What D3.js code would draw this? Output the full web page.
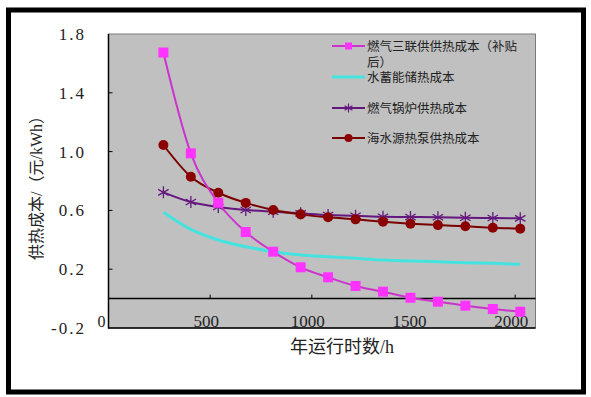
<!DOCTYPE html>
<html>
<head>
<meta charset="utf-8">
<script src="https://cdn.jsdelivr.net/npm/d3@7"></script>
<style>
  body { margin: 0; background: #fff; }
  svg { display: block; }
</style>
</head>
<body>
<svg id="chart" width="591" height="397"></svg>
<script>
// hours per year (x) and heating cost (元/kWh) of each option
const hours = [270, 405, 540, 675, 810, 945, 1080, 1215, 1350, 1485, 1620, 1755, 1890, 2025];
const cchpCost = [1.674, 0.988, 0.652, 0.453, 0.319, 0.213, 0.145, 0.086, 0.047, 0.006, -0.021, -0.048, -0.071, -0.089];
const storageCost = [0.588, 0.471, 0.399, 0.353, 0.319, 0.297, 0.285, 0.274, 0.263, 0.256, 0.251, 0.244, 0.240, 0.233];
const boilerCost = [0.723, 0.657, 0.623, 0.603, 0.591, 0.580, 0.569, 0.564, 0.557, 0.555, 0.553, 0.550, 0.548, 0.546];
const heatPumpCost = [1.045, 0.829, 0.720, 0.651, 0.603, 0.573, 0.553, 0.539, 0.523, 0.510, 0.500, 0.492, 0.482, 0.476];

// legend labels, the first one wraps onto two lines as in the original
const seriesNames = [["燃气三联供供热成本（补贴", "后）"], ["水蓄能储热成本"], ["燃气锅炉供热成本"], ["海水源热泵供热成本"]];
const yTicks = [-0.2, 0.2, 0.6, 1.0, 1.4, 1.8];
const xTicks = [500, 1000, 1500, 2000];

const svg = d3.select("#chart");
const serif = "'Liberation Serif', 'Noto Sans CJK SC', serif";
const cjk = "'Noto Sans CJK SC', sans-serif";

// outer black frame
svg.append("rect")
  .attr("x", 8.5).attr("y", 10)
  .attr("width", 575).attr("height", 382)
  .attr("fill", "#fff")
  .attr("stroke", "#000")
  .attr("stroke-width", 5);

const plotL = 108.5, plotR = 535.5, plotT = 34, plotB = 328;
const x = d3.scaleLinear().domain([0, 2100]).range([plotL, plotR]);
const y = d3.scaleLinear().domain([-0.2, 1.8]).range([plotB, plotT]);

// plot area
svg.append("rect")
  .attr("x", plotL).attr("y", plotT)
  .attr("width", plotR - plotL).attr("height", plotB - plotT)
  .attr("fill", "#c0c0c0")
  .attr("stroke", "#7a7a7a")
  .attr("stroke-width", 1);

// left and bottom borders are black
svg.append("path")
  .attr("d", `M${plotL},${plotT}V${plotB}H${plotR}`)
  .attr("fill", "none")
  .attr("stroke", "#000")
  .attr("stroke-width", 1.5);

// zero line + x ticks
svg.append("line")
  .attr("x1", plotL).attr("x2", plotR)
  .attr("y1", y(0)).attr("y2", y(0))
  .attr("stroke", "#000").attr("stroke-width", 1.5);

svg.selectAll(".xtick")
  .data(xTicks)
  .enter().append("line")
  .attr("x1", d => x(d)).attr("x2", d => x(d))
  .attr("y1", y(0)).attr("y2", y(0) - 4)
  .attr("stroke", "#000");

svg.selectAll(".xlabel")
  .data(xTicks)
  .enter().append("text")
  .attr("x", d => x(d) - 4)
  .attr("y", plotB - 1)
  .attr("text-anchor", "middle")
  .attr("font-family", serif)
  .attr("font-size", "17px")
  .attr("fill", "#222")
  .text(d => d);

svg.append("text")
  .attr("x", plotL - 3).attr("y", plotB - 1)
  .attr("text-anchor", "end")
  .attr("font-family", serif)
  .attr("font-size", "16px")
  .attr("fill", "#222")
  .text("0");

// y ticks
svg.selectAll(".ytick")
  .data(yTicks.filter(d => d > -0.2 && d < 1.8))
  .enter().append("line")
  .attr("x1", plotL).attr("x2", plotL + 4)
  .attr("y1", d => y(d)).attr("y2", d => y(d))
  .attr("stroke", "#000");

svg.selectAll(".ylabel")
  .data(yTicks)
  .enter().append("text")
  .attr("x", 86)
  .attr("y", d => y(d) + 6)
  .attr("text-anchor", "end")
  .attr("font-family", serif)
  .attr("font-size", "17px")
  .attr("letter-spacing", "2px")
  .attr("fill", "#222")
  .text(d => d.toFixed(1));

// axis titles
svg.append("text")
  .attr("transform", "translate(42,184) rotate(-90)")
  .attr("text-anchor", "middle")
  .attr("font-family", serif)
  .attr("font-size", "16px")
  .attr("fill", "#222")
  .text("供热成本/（元/kWh）");

svg.append("text")
  .attr("x", 342).attr("y", 353)
  .attr("text-anchor", "middle")
  .attr("font-family", serif)
  .attr("font-size", "18px")
  .attr("fill", "#222")
  .text("年运行时数/h");

// series
const line = d3.line()
  .x(d => x(d[0]))
  .y(d => y(d[1]))
  .curve(d3.curveMonotoneX);

const zip = vals => hours.map((h, i) => [h, vals[i]]);

const asterisk = r => {
  const a = r * 0.87, b = r * 0.5;
  return `M0,${-r}V${r}M${-a},${-b}L${a},${b}M${-a},${b}L${a},${-b}`;
};

// water storage
svg.append("path")
  .attr("d", line(zip(storageCost)))
  .attr("fill", "none")
  .attr("stroke", "#45e3e0")
  .attr("stroke-width", 3);

// gas boiler
svg.append("path")
  .attr("d", line(zip(boilerCost)))
  .attr("fill", "none")
  .attr("stroke", "#64187e")
  .attr("stroke-width", 2);
svg.selectAll(".boiler")
  .data(zip(boilerCost))
  .enter().append("path")
  .attr("transform", d => `translate(${x(d[0])},${y(d[1])})`)
  .attr("d", asterisk(6))
  .attr("stroke", "#64187e")
  .attr("stroke-width", 1.3);

// seawater heat pump
svg.append("path")
  .attr("d", line(zip(heatPumpCost)))
  .attr("fill", "none")
  .attr("stroke", "#7a0000")
  .attr("stroke-width", 2);
svg.selectAll(".pump")
  .data(zip(heatPumpCost))
  .enter().append("circle")
  .attr("cx", d => x(d[0]))
  .attr("cy", d => y(d[1]))
  .attr("r", 5)
  .attr("fill", "#8b0000");

// gas CCHP
svg.append("path")
  .attr("d", line(zip(cchpCost)))
  .attr("fill", "none")
  .attr("stroke", "#cc33cc")
  .attr("stroke-width", 2);
svg.selectAll(".cchp")
  .data(zip(cchpCost))
  .enter().append("rect")
  .attr("x", d => x(d[0]) - 5)
  .attr("y", d => y(d[1]) - 5)
  .attr("width", 10).attr("height", 10)
  .attr("fill", "#ff33ff");

// legend
const legendRows = [46, 77, 108, 138];
const lx0 = 332, lx1 = 365, lm = 348.5;
const legendColors = ["#cc33cc", "#45e3e0", "#64187e", "#7a0000"];

legendRows.forEach((ry, i) => {
  svg.append("line")
    .attr("x1", lx0).attr("x2", lx1)
    .attr("y1", ry).attr("y2", ry)
    .attr("stroke", legendColors[i])
    .attr("stroke-width", i === 1 ? 3 : 2);
  const t = svg.append("text")
    .attr("x", 367).attr("y", ry + 5)
    .attr("font-family", cjk)
    .attr("font-size", "12.5px")
    .attr("fill", "#222");
  seriesNames[i].forEach((s, j) => {
    t.append("tspan")
      .attr("x", 367)
      .attr("dy", j === 0 ? 0 : 16)
      .text(s);
  });
});
svg.append("rect")
  .attr("x", lm - 3.5).attr("y", legendRows[0] - 3.5)
  .attr("width", 7).attr("height", 7)
  .attr("fill", "#ff33ff");
svg.append("path")
  .attr("transform", `translate(${lm},${legendRows[2]})`)
  .attr("d", asterisk(4.5))
  .attr("stroke", "#64187e")
  .attr("stroke-width", 1.2);
svg.append("circle")
  .attr("cx", lm).attr("cy", legendRows[3])
  .attr("r", 4)
  .attr("fill", "#8b0000");
</script>
</body>
</html>
